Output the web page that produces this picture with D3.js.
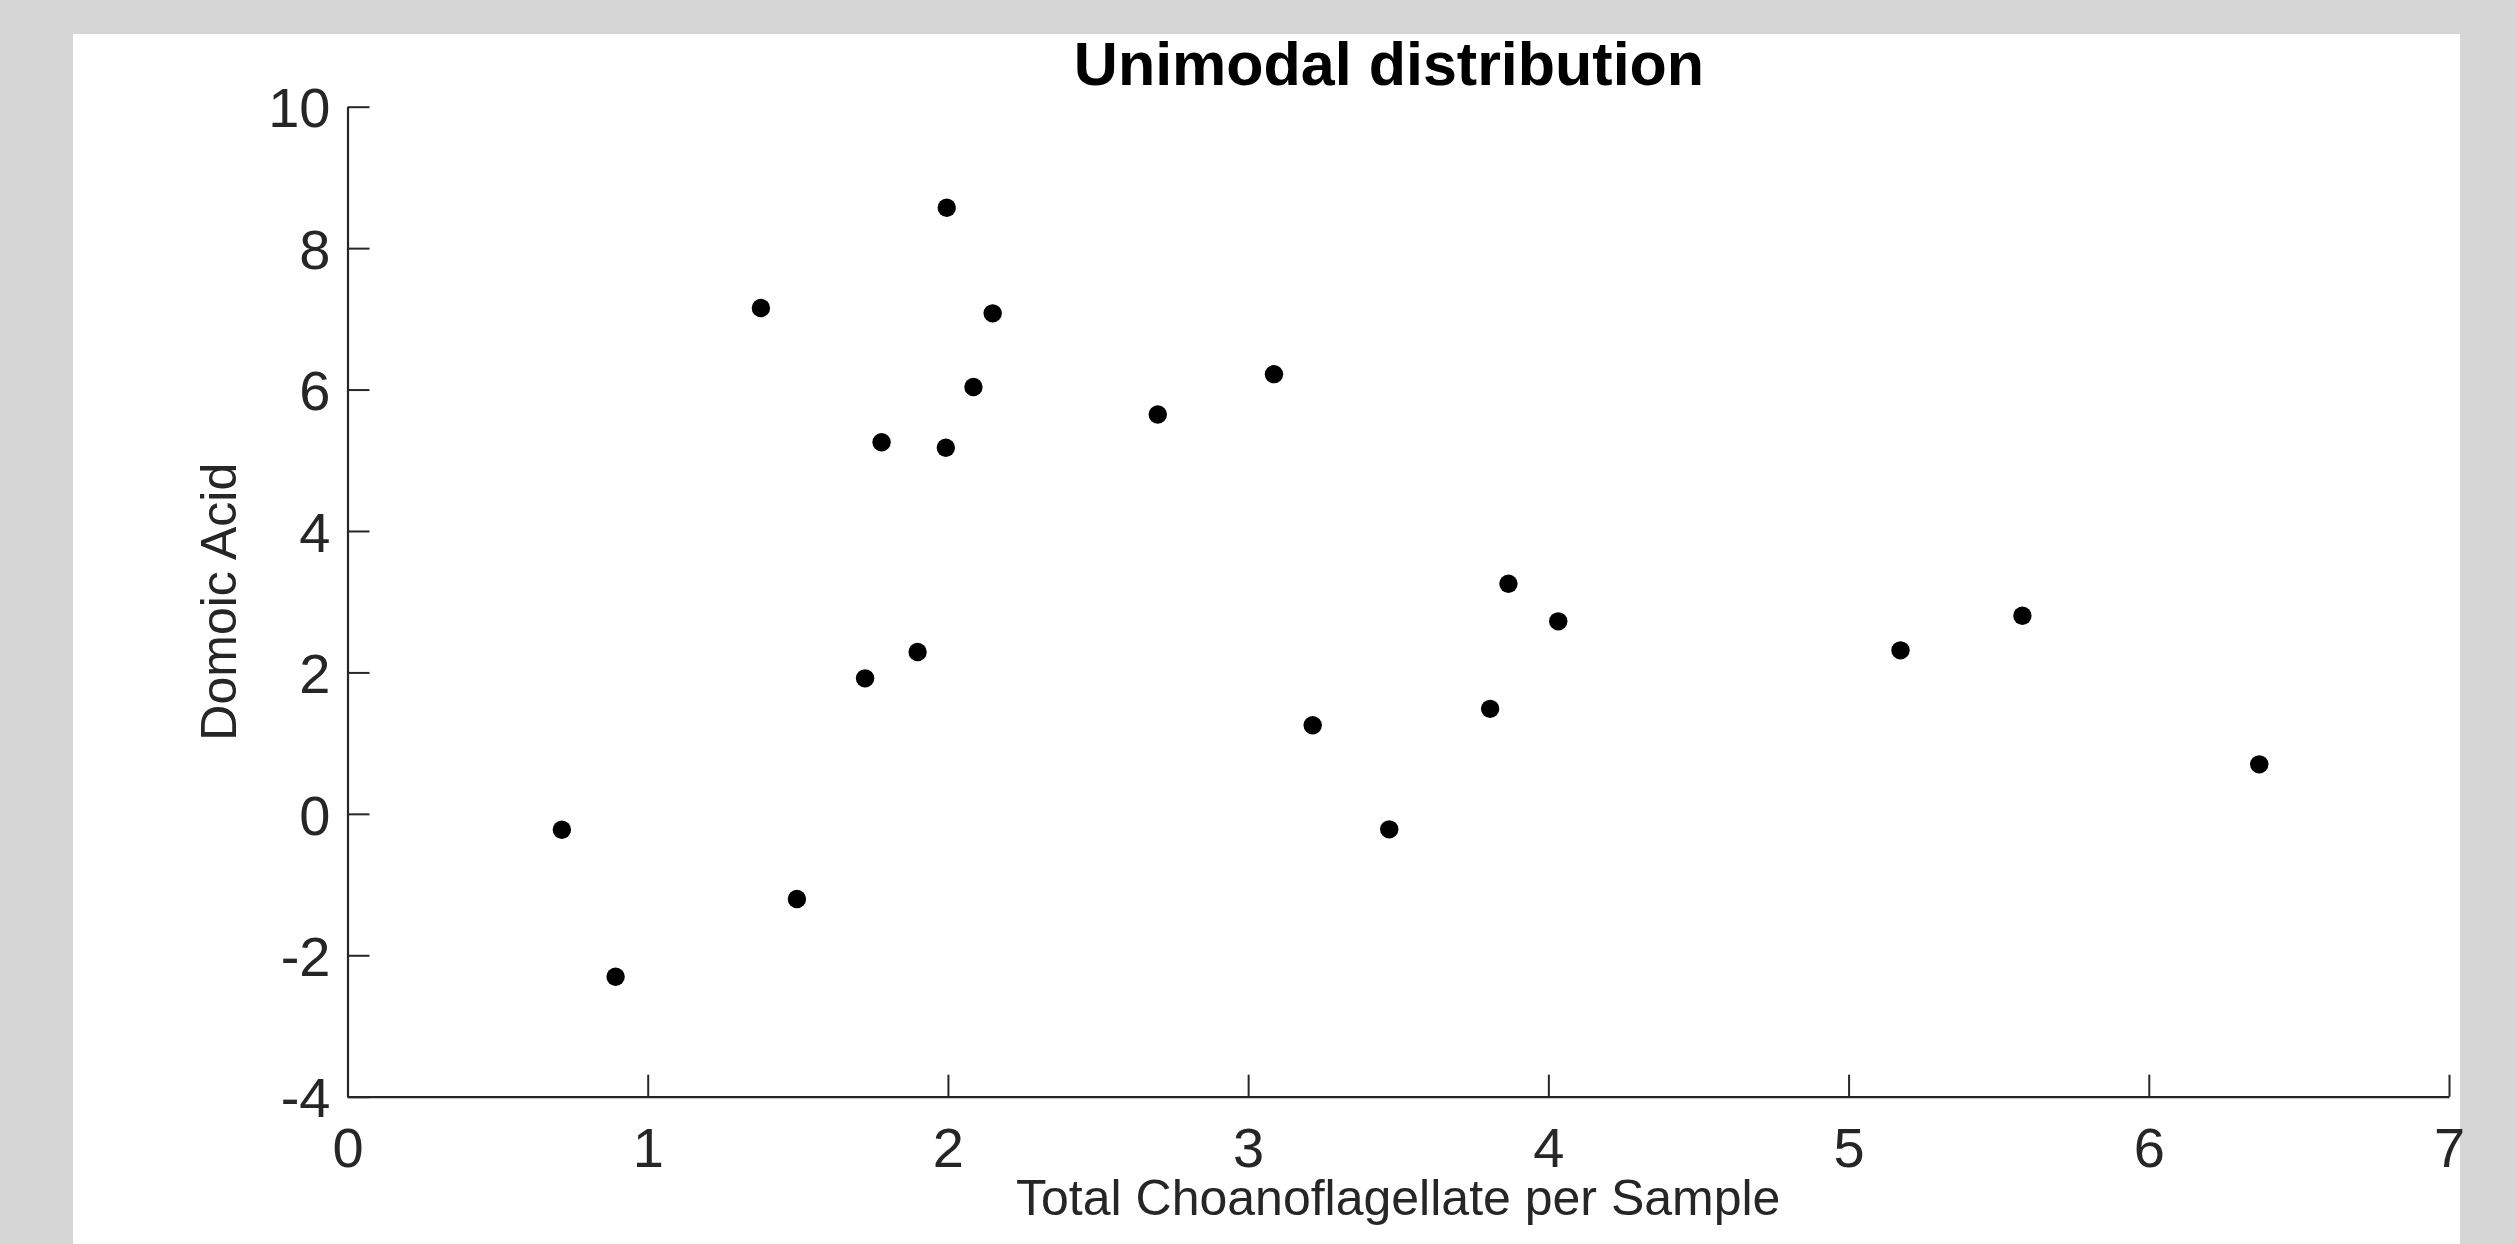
<!DOCTYPE html>
<html>
<head>
<meta charset="utf-8">
<script src="https://cdn.jsdelivr.net/npm/d3@7"></script>
<style>
  html, body { margin: 0; padding: 0; background: #d6d6d6; }
  svg { display: block; }
  text { font-family: "Liberation Sans", Arial, Helvetica, sans-serif; }
</style>
</head>
<body>
<svg id="chart" width="2516" height="1244"></svg>
<script>
// ---- data ----
const chartTitle = "Unimodal distribution";
const xLabel = "Total Choanoflagellate per Sample";
const yLabel = "Domoic Acid";
const xTicks = [0, 1, 2, 3, 4, 5, 6, 7];
const yTicks = [-4, -2, 0, 2, 4, 6, 8, 10];
const choanoflagellate = [0.714, 0.893, 1.377, 1.497, 1.724, 1.779, 1.899, 1.996, 1.993, 2.085, 2.149,
                          2.699, 3.086, 3.215, 3.470, 3.806, 3.867, 4.033, 5.173, 5.579, 6.368];
const domoicAcid = [-0.225, -2.304, 7.153, -1.205, 1.916, 5.254, 2.288, 8.572, 5.177, 6.036, 7.078,
                    5.648, 6.218, 1.252, -0.219, 1.485, 3.253, 2.722, 2.312, 2.802, 0.700];

// ---- layout ----
const W = 2516, H = 1244;
const svg = d3.select("#chart");
const axisColor = "#262626";

svg.append("rect").attr("x", 0).attr("y", 0).attr("width", W).attr("height", H).attr("fill", "#d6d6d6");
svg.append("rect").attr("x", 73).attr("y", 34).attr("width", 2460 - 73).attr("height", H - 34).attr("fill", "#ffffff");

const x = d3.scaleLinear().domain([0, 7]).range([347.5, 2449]);
const y = d3.scaleLinear().domain([-4, 10]).range([1096.7, 106.7]);
const plainFormat = d => String(d);

// x axis
const gx = svg.append("g")
  .attr("transform", `translate(0,${y(-4)})`)
  .call(d3.axisBottom(x).tickValues(xTicks).tickFormat(plainFormat)
        .tickSizeInner(-22).tickSizeOuter(0).tickPadding(31));
// y axis
const gy = svg.append("g")
  .attr("transform", `translate(${x(0)},0)`)
  .call(d3.axisLeft(y).tickValues(yTicks).tickFormat(plainFormat)
        .tickSizeInner(-22).tickSizeOuter(0).tickPadding(17));

[gx, gy].forEach(g => {
  g.select(".domain").attr("stroke", axisColor).attr("stroke-width", 2.2);
  g.selectAll(".tick line").attr("stroke", axisColor).attr("stroke-width", 2);
  g.selectAll(".tick text").attr("fill", axisColor)
    .style("font-size", "56px").attr("font-family", null);
});
gy.selectAll(".tick text").attr("dy", "0.36em");

// points
svg.append("g").selectAll("circle")
  .data(choanoflagellate.map((v, i) => [v, domoicAcid[i]]))
  .join("circle")
  .attr("cx", d => x(d[0]))
  .attr("cy", d => y(d[1]))
  .attr("r", 9.2)
  .attr("fill", "#000000");

// labels
svg.append("text")
  .attr("x", (x(0) + x(7)) / 2)
  .attr("y", 1215)
  .attr("text-anchor", "middle")
  .attr("fill", axisColor)
  .style("font-size", "50px")
  .text(xLabel);

svg.append("text")
  .attr("transform", `translate(236,${(y(10) + y(-4)) / 2}) rotate(-90)`)
  .attr("text-anchor", "middle")
  .attr("fill", axisColor)
  .style("font-size", "50px")
  .text(yLabel);

svg.append("text")
  .attr("x", 1389)
  .attr("y", 85)
  .attr("text-anchor", "middle")
  .attr("fill", "#000000")
  .style("font-size", "61px")
  .style("font-weight", "bold")
  .text(chartTitle);
</script>
</body>
</html>
